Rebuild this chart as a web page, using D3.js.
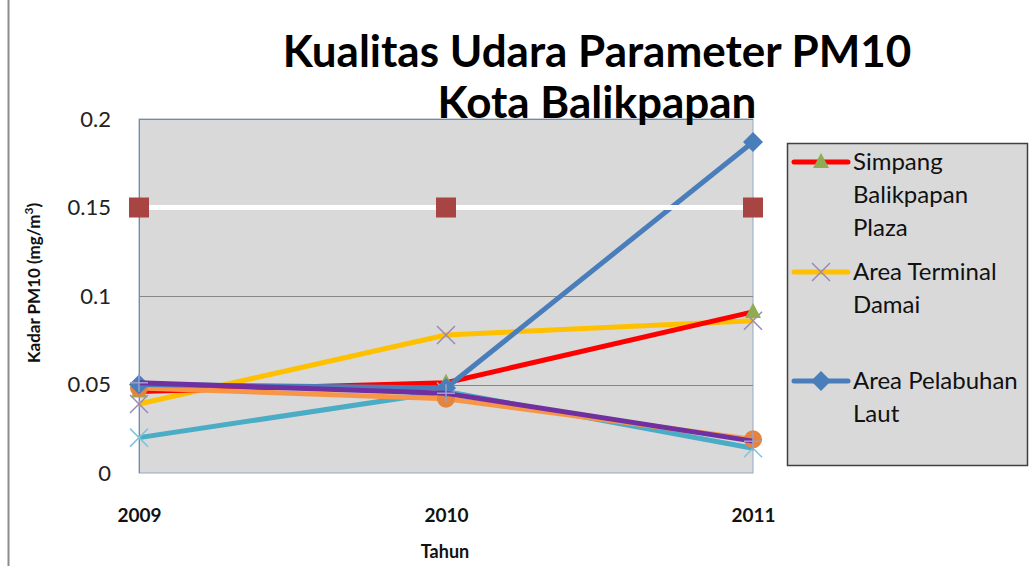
<!DOCTYPE html>
<html>
<head>
<meta charset="utf-8">
<script src="https://cdn.jsdelivr.net/npm/d3@7"></script>
<style>
  body { margin: 0; background: #fff; }
</style>
</head>
<body>
<div id="chart"></div>
<script>
// years on the x axis
var years = ['2009', '2010', '2011'];

// y tick values
var yTicks = [0, 0.05, 0.1, 0.15, 0.2];

// series values
var simpangPlaza = [0.046, 0.051, 0.091];
var terminalDamai = [0.039, 0.078, 0.086];
var pelabuhanLaut = [0.050, 0.048, 0.187];
var bakuMutu = [0.15, 0.15, 0.15];
var seriesOrange = [0.048, 0.042, 0.019];
var seriesTeal = [0.020, 0.046, 0.014];
var seriesPurple = [0.051, 0.045, 0.018];

var legendNames = [
    ['Simpang', 'Balikpapan', 'Plaza'],
    ['Area Terminal', 'Damai'],
    ['Area Pelabuhan', 'Laut']
];

var width = 1029;
var height = 566;
var sansFont = 'Lato, "Open Sans", sans-serif';

//plot area box
var plotLeft = 139;
var plotRight = 753;
var plotTop = 119;
var plotBottom = 473;

var svg = d3.select('#chart')
    .append('svg')
    .attr('width', width)
    .attr('height', height)
    .style('font-family', sansFont);

//outer chart border (only left part visible)
svg.append('line')
    .attr('x1', 8.5).attr('x2', 8.5)
    .attr('y1', 0).attr('y2', height)
    .attr('stroke', '#8c8c8c')
    .attr('stroke-width', 2);

var xScale = d3.scalePoint()
    .domain(years)
    .range([plotLeft, plotRight]);

var yScale = d3.scaleLinear()
    .domain([0, 0.2])
    .range([plotBottom, plotTop]);

//plot background
svg.append('rect')
    .attr('x', plotLeft)
    .attr('y', plotTop)
    .attr('width', plotRight - plotLeft)
    .attr('height', plotBottom - plotTop)
    .attr('fill', '#d9d9d9')
    .attr('stroke', '#8ea9c8')
    .attr('stroke-width', 1);

//gridlines
svg.append('g')
    .selectAll('line')
    .data(yTicks.filter(function(d) { return d > 0; }))
    .enter()
    .append('line')
    .attr('x1', plotLeft)
    .attr('x2', plotRight)
    .attr('y1', function(d) { return Math.round(yScale(d)) + 0.5; })
    .attr('y2', function(d) { return Math.round(yScale(d)) + 0.5; })
    .attr('stroke', '#878787')
    .attr('stroke-width', 1);

//left axis line
svg.append('line')
    .attr('x1', plotLeft + 0.5).attr('x2', plotLeft + 0.5)
    .attr('y1', plotTop).attr('y2', plotBottom)
    .attr('stroke', '#878787');

//y tick labels
var yAxis = d3.axisLeft(yScale)
    .tickValues(yTicks)
    .tickSize(0)
    .tickPadding(28)
    .tickFormat(function(d) { return d === 0 ? '0' : String(+d.toFixed(2)); });

var yAxisG = svg.append('g')
    .attr('transform', 'translate(' + plotLeft + ', 0)')
    .call(yAxis);
yAxisG.select('.domain').remove();
yAxisG.selectAll('text')
    .style('font-size', '22px')
    .style('font-family', sansFont)
    .attr('fill', '#222');

//x tick labels
var xAxis = d3.axisBottom(xScale).tickSize(0).tickPadding(36);
var xAxisG = svg.append('g')
    .attr('transform', 'translate(0, ' + plotBottom + ')')
    .call(xAxis);
xAxisG.select('.domain').remove();
xAxisG.selectAll('text')
    .style('font-size', '19px')
    .style('font-weight', 'bold')
    .style('font-family', sansFont)
    .attr('fill', '#111');

//axis titles
svg.append('text')
    .attr('x', 445)
    .attr('y', 558)
    .attr('text-anchor', 'middle')
    .style('font-size', '18px')
    .style('font-weight', 'bold')
    .attr('fill', '#111')
    .text('Tahun');

var yTitle = svg.append('text')
    .attr('transform', 'translate(40, 283)rotate(-90)')
    .attr('text-anchor', 'middle')
    .style('font-size', '17px')
    .style('font-weight', 'bold')
    .attr('fill', '#111');
yTitle.append('tspan').text('Kadar PM10 (mg/m');
yTitle.append('tspan').style('font-size', '12px').attr('dy', -7).text('3');
yTitle.append('tspan').attr('dy', 7).text(')');

//title
svg.append('text')
    .attr('x', 597)
    .attr('y', 67)
    .attr('text-anchor', 'middle')
    .style('font-size', '44px')
    .style('font-weight', 'bold')
    .attr('fill', '#000')
    .text('Kualitas Udara Parameter PM10');

svg.append('text')
    .attr('x', 597)
    .attr('y', 118)
    .attr('text-anchor', 'middle')
    .style('font-size', '44px')
    .style('font-weight', 'bold')
    .attr('fill', '#000')
    .text('Kota Balikpapan');

//series definitions built from the arrays
var seriesList = [
    { values: terminalDamai, line: '#ffc000', marker: 'x', mcolor: '#9a88b8' },
    { values: simpangPlaza, line: '#ff0000', marker: 'triangle', mcolor: '#8fac55' },
    { values: seriesTeal, line: '#4bacc6', marker: 'x', mcolor: '#7fc4dc' },
    { values: seriesOrange, line: '#f79646', marker: 'circle', mcolor: '#e3853f' },
    { values: pelabuhanLaut, line: '#4a7ebb', marker: 'diamond', mcolor: '#4a7ebb' },
    { values: seriesPurple, line: '#7030a0', marker: 'plus', mcolor: '#9a9fd0' },
    { values: bakuMutu, line: '#ffffff', marker: 'square', mcolor: '#a84442' }
];

var lineGen = d3.line()
    .x(function(d, i) { return xScale(years[i]); })
    .y(function(d) { return yScale(d); });

function drawMarker(g, type, color, x, y) {
    if (type === 'triangle') {
        g.append('path')
            .attr('d', 'M' + x + ',' + (y - 9) + 'L' + (x + 8) + ',' + (y + 6) + 'L' + (x - 8) + ',' + (y + 6) + 'Z')
            .attr('fill', color);
    } else if (type === 'x') {
        g.append('path')
            .attr('d', 'M' + (x - 9) + ',' + (y - 9) + 'L' + (x + 9) + ',' + (y + 9) + 'M' + (x + 9) + ',' + (y - 9) + 'L' + (x - 9) + ',' + (y + 9))
            .attr('stroke', color)
            .attr('stroke-width', 1.5);
    } else if (type === 'plus') {
        g.append('path')
            .attr('d', 'M' + (x - 9) + ',' + y + 'L' + (x + 9) + ',' + y + 'M' + x + ',' + (y - 9) + 'L' + x + ',' + (y + 9))
            .attr('stroke', color)
            .attr('stroke-width', 1.5);
    } else if (type === 'circle') {
        g.append('circle')
            .attr('cx', x).attr('cy', y).attr('r', 9)
            .attr('fill', color);
    } else if (type === 'diamond') {
        g.append('path')
            .attr('d', 'M' + x + ',' + (y - 10) + 'L' + (x + 10) + ',' + y + 'L' + x + ',' + (y + 10) + 'L' + (x - 10) + ',' + y + 'Z')
            .attr('fill', color);
    } else if (type === 'square') {
        g.append('rect')
            .attr('x', x - 10).attr('y', y - 10)
            .attr('width', 20).attr('height', 20)
            .attr('fill', color);
    }
}

seriesList.forEach(function(s) {
    var g = svg.append('g');
    g.append('path')
        .datum(s.values)
        .attr('d', lineGen)
        .attr('fill', 'none')
        .attr('stroke', s.line)
        .attr('stroke-width', 5)
        .attr('stroke-linejoin', 'round');
    s.values.forEach(function(v, i) {
        drawMarker(g, s.marker, s.mcolor, xScale(years[i]), yScale(v));
    });
});

//legend box
var legend = svg.append('g');
legend.append('rect')
    .attr('x', 787.5)
    .attr('y', 143.5)
    .attr('width', 240)
    .attr('height', 322)
    .attr('fill', '#d9d9d9')
    .attr('stroke', '#404040')
    .attr('stroke-width', 1.5);

var legendItems = [
    { s: seriesList[1], y: 162 },
    { s: seriesList[0], y: 272 },
    { s: seriesList[4], y: 381 }
];

legendItems.forEach(function(item, idx) {
    legend.append('line')
        .attr('x1', 794).attr('x2', 848)
        .attr('y1', item.y).attr('y2', item.y)
        .attr('stroke', item.s.line)
        .attr('stroke-width', 5)
        .attr('stroke-linecap', 'round');
    drawMarker(legend, item.s.marker, item.s.mcolor, 821, item.y);
    legendNames[idx].forEach(function(name, j) {
        legend.append('text')
            .attr('x', 853)
            .attr('y', item.y + 8 + j * 33)
            .style('font-size', '24px')
            .attr('fill', '#111')
            .text(name);
    });
});
</script>
</body>
</html>
